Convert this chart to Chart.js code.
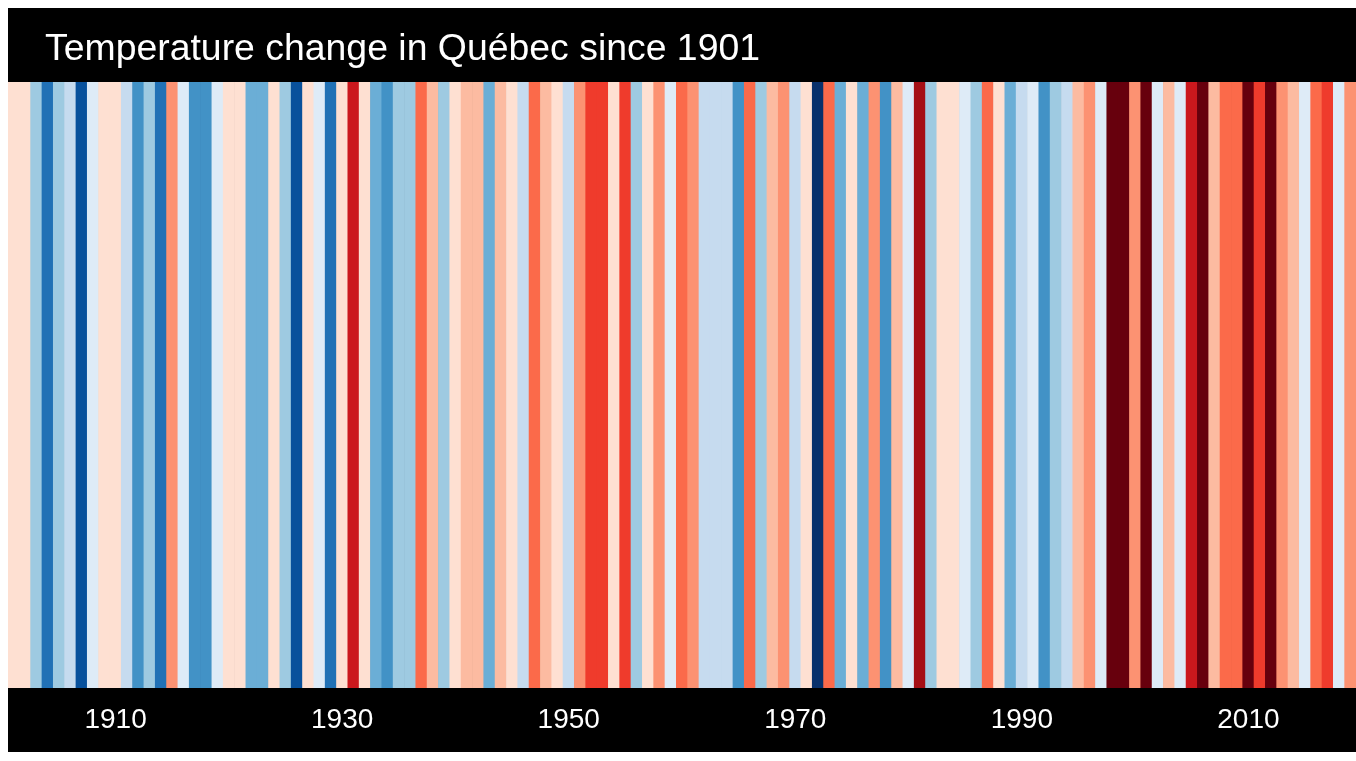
<!DOCTYPE html>
<html>
<head>
<meta charset="utf-8">
<script src="https://cdn.jsdelivr.net/npm/chart.js@4.4.1/dist/chart.umd.min.js"></script>
<style>
  html, body { margin: 0; padding: 0; background: #fff; width: 1356px; height: 761px; overflow: hidden; }
  #wrap { position: absolute; left: 8px; top: 8px; width: 1348px; height: 744px; background: #000; }
  canvas { display: block; }
</style>
</head>
<body>
<div id="wrap"><canvas id="c" width="1348" height="744"></canvas></div>
<script>
const titleText = 'Temperature change in Québec since 1901';

const firstYear = 1901;
const lastYear = 2019;
const years = [];
for (let y = firstYear; y <= lastYear; y++) years.push(y);

// Annual temperature anomaly (°C)
const anomalies = [
  0.12, 0.08, -0.62, -1.38, -0.58, -0.41, -1.62, -0.14, 0.15, 0.05,
  -0.36, -1.12, -0.66, -1.31, 0.63, -0.09, -1.08, -1.15, -0.18, 0.11,
  0.07, -0.88, -0.82, 0.14, -0.57, -1.66, 0.09, -0.12, -1.42, 0.18,
  1.38, 0.06, -0.86, -1.04, -0.61, -0.55, 0.91, 0.36, -0.64, 0.13,
  0.42, 0.33, -0.92, 0.45, 0.04, -0.33, 0.84, 0.38, 0.16, -0.44,
  0.58, 1.12, 1.08, 0.10, 1.16, -0.68, 0.19, 0.66, -0.07, 0.88,
  0.71, -0.38, -0.45, -0.29, -1.18, 0.79, -0.53, 0.31, 0.55, -0.42,
  0.03, -1.85, 0.94, -0.79, 0.20, -0.95, 0.69, -1.02, 0.47, -0.16,
  1.57, -0.71, 0.17, 0.22, -0.05, -0.59, 0.82, 0.08, -0.84, -0.31,
  -0.20, -1.21, -0.74, -0.27, 0.44, 0.62, -0.11, 1.92, 1.81, 0.57,
  1.86, -0.08, 0.35, -0.22, 1.44, 1.78, 0.29, 0.97, 0.86, 1.95,
  1.21, 1.83, 0.73, 0.48, -0.13, 0.77, 1.03, -0.03, 0.52
];

const tickYears = [1910, 1930, 1950, 1970, 1990, 2010];

const palette = [
  '#08306b', '#08519c', '#2171b5', '#4292c6', '#6baed6', '#9ecae1', '#c6dbef', '#deebf7',
  '#fee0d2', '#fcbba1', '#fc9272', '#fb6a4a', '#ef3b2c', '#cb181d', '#a50f15', '#67000d'
];
const colorMin = -2, colorMax = 2;

function colorFor(v) {
  let i = Math.floor((v - colorMin) / (colorMax - colorMin) * palette.length);
  i = Math.max(0, Math.min(palette.length - 1, i));
  return palette[i];
}

const titlePlugin = {
  id: 'stripeTitle',
  afterDraw(chart) {
    const ctx = chart.ctx;
    ctx.save();
    ctx.fillStyle = '#ffffff';
    ctx.font = '37.4px "Liberation Sans", Arial, Helvetica, sans-serif';
    ctx.textBaseline = 'alphabetic';
    ctx.textAlign = 'left';
    ctx.fillText(titleText, 37, 52);
    ctx.restore();
  }
};

new Chart(document.getElementById('c'), {
  type: 'bar',
  data: {
    labels: years.map(String),
    datasets: [{
      data: anomalies.map(() => 1),
      backgroundColor: anomalies.map(colorFor),
      borderWidth: 0,
      barPercentage: 1.06,
      categoryPercentage: 1
    }]
  },
  options: {
    responsive: false,
    devicePixelRatio: 1,
    animation: false,
    layout: { padding: { top: 74, left: 0, right: 0, bottom: 0 } },
    plugins: { legend: { display: false }, tooltip: { enabled: false }, title: { display: false } },
    scales: {
      x: {
        type: 'category',
        grid: { display: false, drawTicks: false, tickLength: 0 },
        border: { display: false },
        ticks: {
          color: '#ffffff',
          autoSkip: false,
          maxRotation: 0,
          minRotation: 0,
          padding: 15,
          font: { family: '"Liberation Sans", Arial, Helvetica, sans-serif', size: 28 },
          callback: function (value, index) {
            return tickYears.includes(years[index]) ? String(years[index]) : '';
          }
        },
        afterFit: function (scale) {
          scale.height = 64;
          scale.paddingLeft = 0;
          scale.paddingRight = 0;
        }
      },
      y: { display: false, min: 0, max: 1 }
    }
  },
  plugins: [titlePlugin]
});
</script>
</body>
</html>
